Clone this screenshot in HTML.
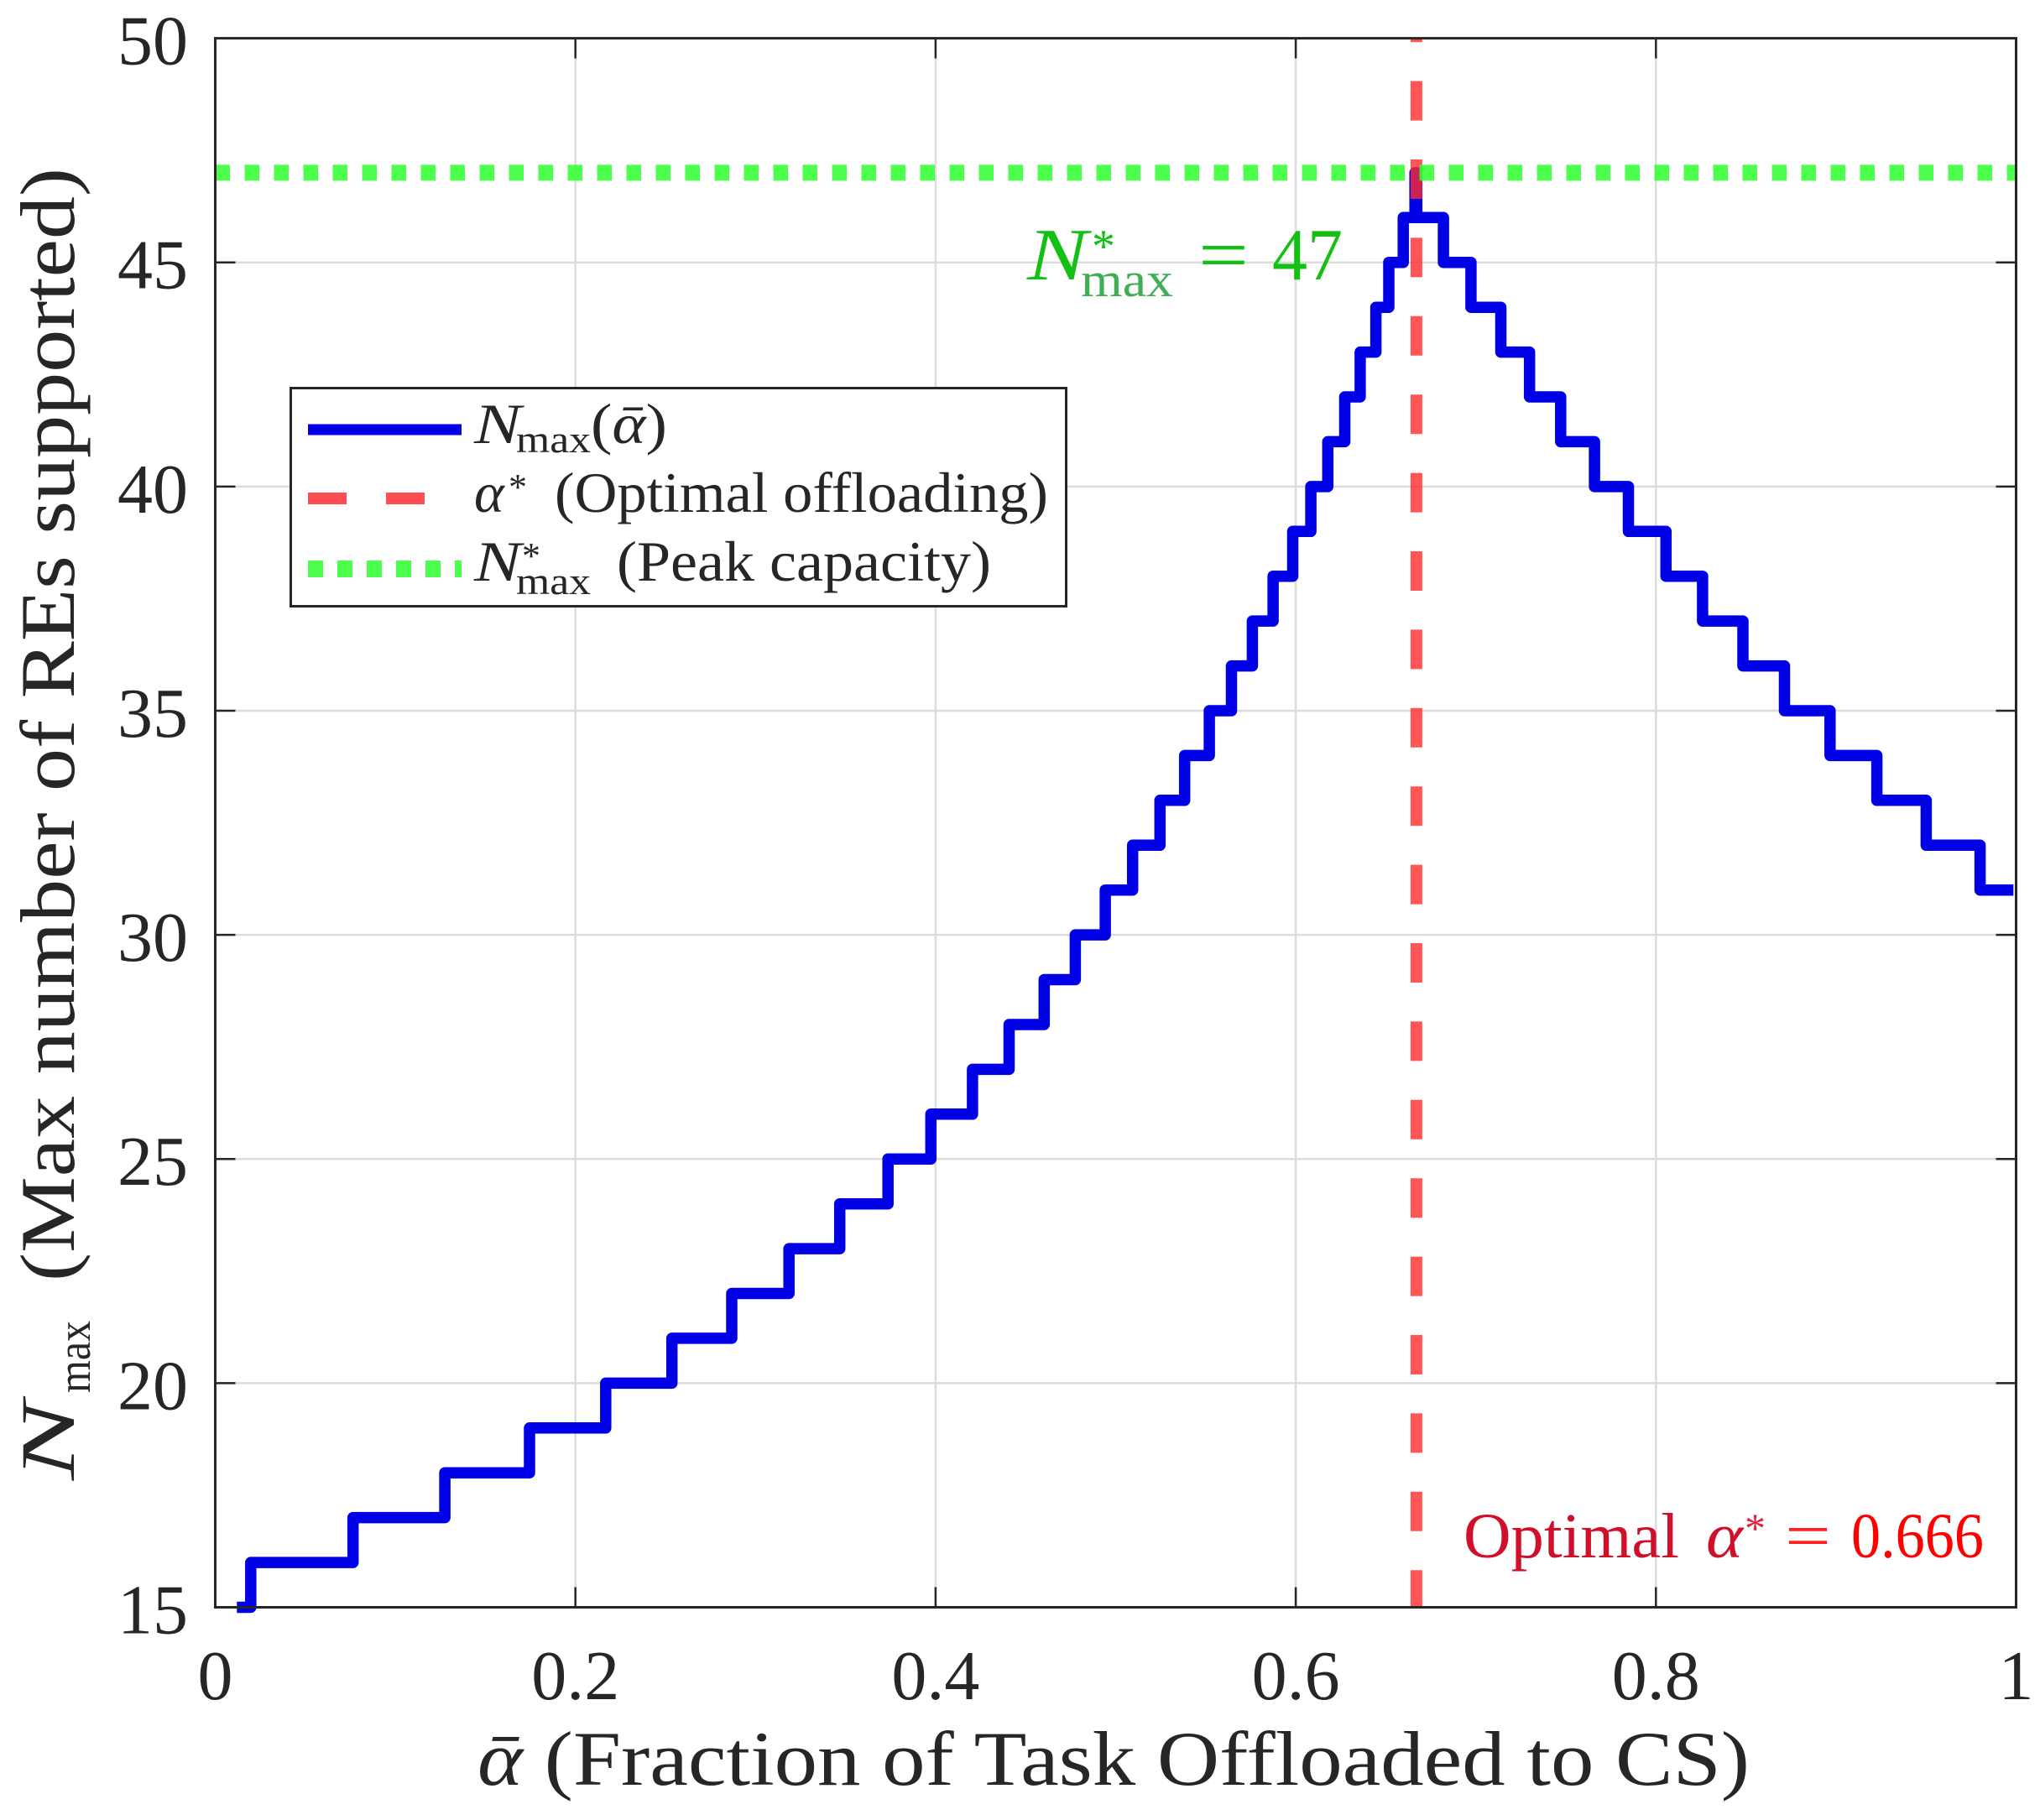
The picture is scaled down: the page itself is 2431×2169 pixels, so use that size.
<!DOCTYPE html>
<html>
<head>
<meta charset="utf-8">
<title>Max number of REs supported</title>
<style>
html,body{margin:0;padding:0;background:#fff;width:2431px;height:2169px;overflow:hidden}
svg{display:block}
text{font-family:"Liberation Serif","DejaVu Serif",serif;fill:#262626}
</style>
</head>
<body>
<svg id="chart" xmlns="http://www.w3.org/2000/svg" width="2431" height="2169" viewBox="0 0 2431 2169">
<g id="grid"></g>
<g id="series"></g>
<g id="axes"></g>
<g id="xlabels"></g>
<g id="ylabels"></g>

<text x="569" y="2127" font-size="92" textLength="1516" lengthAdjust="spacingAndGlyphs"><tspan font-style="italic">ᾱ</tspan> (Fraction of Task Offloaded to CS)</text>

<g>
<text transform="translate(88,1764) rotate(-90)" font-size="92" font-style="italic" textLength="94" lengthAdjust="spacingAndGlyphs">N</text>
<text transform="translate(107,1660) rotate(-90)" font-size="56" textLength="86" lengthAdjust="spacingAndGlyphs">max</text>
<text transform="translate(88,1527) rotate(-90)" font-size="92" textLength="1327" lengthAdjust="spacingAndGlyphs">(Max number of REs supported)</text>
</g>

<g>
<text x="1224" y="333" font-size="88" font-style="italic" textLength="72" lengthAdjust="spacingAndGlyphs" style="fill:#15c015">N</text>
<text x="1301" y="312" font-size="56" style="fill:#15c015">*</text>
<text x="1288" y="353" font-size="58" textLength="110" lengthAdjust="spacingAndGlyphs" style="fill:#3fae55">max</text>
<text x="1428" y="333" font-size="88" textLength="60" lengthAdjust="spacingAndGlyphs" style="fill:#15c015">=</text>
<text x="1516" y="333" font-size="88" textLength="84" lengthAdjust="spacingAndGlyphs" style="fill:#15c015">47</text>
</g>

<g>
<text x="1744" y="1856" font-size="76" textLength="257" lengthAdjust="spacingAndGlyphs" style="fill:#d0102a">Optimal</text>
<text x="2033" y="1856" font-size="76" font-style="italic" textLength="44" lengthAdjust="spacingAndGlyphs" style="fill:#d0102a">α</text>
<text x="2079" y="1838" font-size="50" style="fill:#e02040">*</text>
<text x="2127" y="1856" font-size="76" textLength="55" lengthAdjust="spacingAndGlyphs" style="fill:#ff2020">=</text>
<text x="2206" y="1856" font-size="76" textLength="158" lengthAdjust="spacingAndGlyphs" style="fill:#ff0000">0.666</text>
</g>

<g>
<rect x="346.5" y="462.5" width="924" height="260" fill="#fff" stroke="#262626" stroke-width="3"/>
<g>
<line x1="367" y1="512" x2="550" y2="512" stroke="#0000e6" stroke-width="13"/>
<text x="565" y="528" font-size="68" font-style="italic" textLength="56" lengthAdjust="spacingAndGlyphs">N</text>
<text x="615" y="539" font-size="46" textLength="89" lengthAdjust="spacingAndGlyphs">max</text>
<text x="704" y="528" font-size="68" textLength="91" lengthAdjust="spacingAndGlyphs">(<tspan font-style="italic">ᾱ</tspan>)</text>
</g>
<g>
<line x1="367" y1="594" x2="506" y2="594" stroke="#ff4d55" stroke-width="14" stroke-dasharray="46 47"/>
<text x="565" y="610" font-size="68" font-style="italic">α</text>
<text x="606" y="595" font-size="44">*</text>
<text x="661" y="610" font-size="68" textLength="588" lengthAdjust="spacingAndGlyphs">(Optimal offloading)</text>
</g>
<g>
<line x1="367" y1="678" x2="550" y2="678" stroke="#4dff4d" stroke-width="20" stroke-dasharray="18 17"/>
<text x="565" y="692" font-size="68" font-style="italic" textLength="56" lengthAdjust="spacingAndGlyphs">N</text>
<text x="622" y="677" font-size="44">*</text>
<text x="615" y="708" font-size="46" textLength="89" lengthAdjust="spacingAndGlyphs">max</text>
<text x="735" y="692" font-size="68" textLength="446" lengthAdjust="spacingAndGlyphs">(Peak capacity)</text>
</g>
</g>
</svg>
<script>
var alphaSteps = [0.012,0.0197,0.0765,0.1275,0.1745,0.2168,0.2536,0.2868,0.3186,0.3468,0.3736,0.3974,0.4205,0.4408,0.4603,0.4776,0.4942,0.5094,0.5246,0.5383,0.552,0.5643,0.5759,0.5874,0.5983,0.6084,0.6178,0.6272,0.6358,0.6445,0.6517,0.6597,0.6662,0.6672,0.682,0.6973,0.7139,0.7298,0.7471,0.7659,0.7847,0.8056,0.8259,0.8483,0.8714,0.8967,0.9227,0.9501,0.98,0.9985];
var nmaxValues = [15,16,17,18,19,20,21,22,23,24,25,26,27,28,29,30,31,32,33,34,35,36,37,38,39,40,41,42,43,44,45,46,47,46,45,44,43,42,41,40,39,38,37,36,35,34,33,32,31];
var optimalAlpha = [0.667];
var peakCapacity = [47];
var xTicks = [0,0.2,0.4,0.6,0.8,1];
var yTicks = [15,20,25,30,35,40,45,50];
var xTickText = ["0","0.2","0.4","0.6","0.8","1"];
var yTickText = ["15","20","25","30","35","40","45","50"];
var xDomain = [0,1];
var yDomain = [15,50];

var SVGNS = "http://www.w3.org/2000/svg";
var plotLeft = 256.5, plotRight = 2402.5, plotTop = 45.6, plotBottom = 1915.5;
function sx(v){ return plotLeft + (v - xDomain[0]) / (xDomain[1] - xDomain[0]) * (plotRight - plotLeft); }
function sy(v){ return plotBottom - (v - yDomain[0]) / (yDomain[1] - yDomain[0]) * (plotBottom - plotTop); }
function mk(tag, attrs, parent){
  var el = document.createElementNS(SVGNS, tag);
  for (var k in attrs) el.setAttribute(k, attrs[k]);
  parent.appendChild(el);
  return el;
}
var grid = document.getElementById("grid");
var axes = document.getElementById("axes");
var series = document.getElementById("series");
var xl = document.getElementById("xlabels");
var yl = document.getElementById("ylabels");
var axisColor = "#262626";

xTicks.forEach(function(t, i){
  var x = sx(t);
  if (i > 0 && i < xTicks.length - 1) {
    var g = mk("line", {x1:x, y1:plotTop, x2:x, y2:plotBottom, stroke:"#dcdcdc", "stroke-width":2.5}, grid);
    
    
    var tb = mk("line", {x1:x, y1:plotBottom, x2:x, y2:plotBottom-24, stroke:axisColor, "stroke-width":2.5}, axes);
    
    
    var tt = mk("line", {x1:x, y1:plotTop, x2:x, y2:plotTop+24, stroke:axisColor, "stroke-width":2.5}, axes);
    
    
  }
  var lab = mk("text", {x:x, y:2025, "font-size":84, "text-anchor":"middle"}, xl);
  
  
  lab.textContent = xTickText[i];
});

yTicks.forEach(function(t, i){
  var y = sy(t);
  if (i > 0 && i < yTicks.length - 1) {
    var g = mk("line", {x1:plotLeft, y1:y, x2:plotRight, y2:y, stroke:"#dcdcdc", "stroke-width":2.5}, grid);
    
    
    var tl = mk("line", {x1:plotLeft, y1:y, x2:plotLeft+24, y2:y, stroke:axisColor, "stroke-width":2.5}, axes);
    
    
    var tr = mk("line", {x1:plotRight, y1:y, x2:plotRight-24, y2:y, stroke:axisColor, "stroke-width":2.5}, axes);
    
    
  }
  var lab = mk("text", {x:224, y:y+31, "font-size":84, "text-anchor":"end"}, yl);
  
  
  lab.textContent = yTickText[i];
});

var frame = mk("rect", {x:plotLeft, y:plotTop, width:plotRight-plotLeft, height:plotBottom-plotTop, fill:"none", stroke:axisColor, "stroke-width":3}, axes);



var d = "";
nmaxValues.forEach(function(n, i){
  d += (i === 0 ? "M" : "L") + sx(alphaSteps[i]).toFixed(1) + " " + sy(n).toFixed(1);
  d += "L" + sx(alphaSteps[i+1]).toFixed(1) + " " + sy(n).toFixed(1);
});
var blue = mk("path", {d:d, fill:"none", stroke:"#0000e6", "stroke-width":13.5, "stroke-linejoin":"round"}, series);



var red = mk("line", {x1:sx(optimalAlpha[0]), y1:plotTop, x2:sx(optimalAlpha[0]), y2:plotBottom, stroke:"#ff2a2a", "stroke-opacity":0.8, "stroke-width":14, "stroke-dasharray":"47 46.4", "stroke-dashoffset":42.4}, series);



var green = mk("line", {x1:plotLeft, y1:sy(peakCapacity[0]), x2:plotRight, y2:sy(peakCapacity[0]), stroke:"#33ff33", "stroke-opacity":0.88, "stroke-width":19, "stroke-dasharray":"17.5 17.5"}, series);


</script>
</body>
</html>
